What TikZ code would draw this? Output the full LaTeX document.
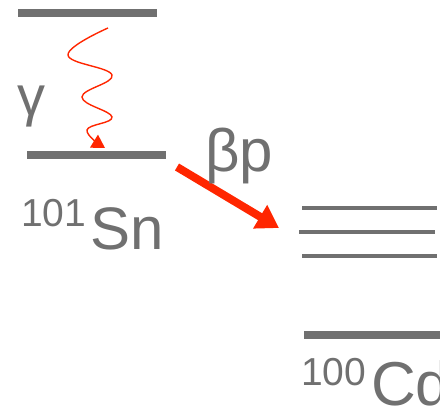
\documentclass[tikz,border=0pt]{standalone}
\usepackage{fontspec}
\setmainfont{Liberation Sans}
\usetikzlibrary{arrows.meta}
\definecolor{levelgray}{RGB}{112,112,112}
\definecolor{decayred}{RGB}{255,38,0}

\tikzset{
  level/.style={levelgray,line width=7.5pt},
  sublevel/.style={levelgray,line width=4pt},
  gammawave/.style={decayred,line width=1.4pt,-{Triangle[length=13pt,width=15pt]}},
  betaarrow/.style={decayred,line width=8pt,-{Triangle[length=22pt,width=26pt]}},
  isolabel/.style={text=levelgray,inner sep=0pt,anchor=base west}
}

\begin{document}
\begin{tikzpicture}[x=1pt,y=-1pt]
        \useasboundingbox (0,0) rectangle (440,409);
        \clip (0,0) rectangle (440,409);

        % 101Sn levels
        \draw[level] (18,13) -- (157,13);
        \draw[level] (27,155) -- (166,155);

        % 100Cd levels
        \draw[sublevel] (302,208) -- (437,208);
        \draw[sublevel] (299,232) -- (435,232);
        \draw[sublevel] (302,256) -- (437,256);
        \draw[level] (304,335) -- (440,335);

        % gamma transition
        \coordinate (gstart) at (108,28);
        \coordinate (gend) at (105,148);
        \draw[gammawave] plot[smooth,tension=0.7] coordinates
          {(gstart) (68,55) (112,75) (82,97) (112,117) (87,130) (gend)};
        \node[isolabel,font=\fontsize{56}{56}\selectfont] (gammalabel)
          at (17,116) {γ};

        % beta-delayed proton
        \coordinate (bpstart) at (177,167);
        \coordinate (bpend) at (279,228);
        \draw[betaarrow] (bpstart) -- (bpend);
        \node[isolabel,font=\fontsize{60}{60}\selectfont] (bplabel)
          at (205,172) {βp};

        % nuclide names
        \node[isolabel,font=\fontsize{39}{39}\selectfont] (snmass)
          at (21,227) {101};
        \node[isolabel,font=\fontsize{60}{60}\selectfont] (snname)
          at (90,250) {Sn};
        \node[isolabel,font=\fontsize{39}{39}\selectfont] (cdmass)
          at (301,385) {100};
        \node[isolabel,font=\fontsize{62}{62}\selectfont] (cdname)
          at (371,406) {Cd};
      \end{tikzpicture}
\end{document}
